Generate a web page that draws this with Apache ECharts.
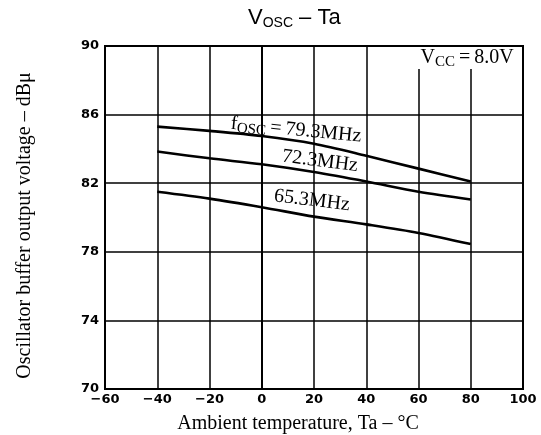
<!DOCTYPE html>
<html><head><meta charset="utf-8">
<script src="https://cdn.jsdelivr.net/npm/echarts@6/dist/echarts.min.js"></script>
<style>html,body{margin:0;padding:0;background:#fff}#c{width:541px;height:435px}</style>
</head><body><div id="c"></div>
<script>
// Data
const temps = [-40, -20, 0, 20, 40, 60, 80];
const f79 = [85.3, 85.05, 84.75, 84.3, 83.6, 82.85, 82.1];
const f72 = [83.85, 83.45, 83.1, 82.65, 82.1, 81.5, 81.05];
const f65 = [81.5, 81.1, 80.6, 80.05, 79.6, 79.1, 78.45];
const xTicks = [-60, -40, -20, 0, 20, 40, 60, 80, 100];
const yTicks = [70, 74, 78, 82, 86, 90];
const seriesNames = ['79.3MHz', '72.3MHz', '65.3MHz'];

const chart = echarts.init(document.getElementById('c'), null, {renderer: 'canvas'});
const serif = '"Liberation Serif", "DejaVu Serif", serif';
const sans = '"Liberation Sans", Arial, sans-serif';
const tickFont = '"DejaVu Sans", sans-serif';

function mkSeries(name, vals) {
  return {
    type: 'line', name: name,
    data: temps.map((t, i) => [t, vals[i]]),
    smooth: 0.3, symbol: 'none',
    lineStyle: {color: '#000', width: 2.6}, z: 5
  };
}

const labelStyle = {color: '#000', fontFamily: tickFont, fontWeight: 'bold', fontSize: 13};

chart.setOption({
  animation: false,
  backgroundColor: '#fff',
  title: {
    text: '{v|V}{s|OSC}{v| – Ta}', left: 243, top: 0,
    textStyle: {fontWeight: 'normal', rich: {
      v: {fontFamily: sans, fontSize: 22, fontWeight: 'normal', color: '#000', lineHeight: 26},
      s: {fontFamily: sans, fontSize: 14, fontWeight: 'normal', color: '#000', lineHeight: 14, padding: [10, 0, 0, 0]}
    }}
  },
  grid: {left: 105, right: 18, top: 46, bottom: 46, containLabel: false, outerBoundsMode: 'none',
    show: true, borderColor: '#000', borderWidth: 2, backgroundColor: 'transparent'},
  xAxis: {
    type: 'value', min: xTicks[0], max: xTicks[xTicks.length - 1], interval: 20,
    axisLine: {show: true, lineStyle: {color: '#000', width: 2}},
    axisTick: {show: false},
    splitLine: {show: true, lineStyle: {color: '#000', width: 1.5}},
    axisLabel: Object.assign({margin: 4, formatter: v => String(v).replace('-', '\u2212')}, labelStyle),
    name: 'Ambient temperature, Ta – °C', nameLocation: 'middle', nameGap: 25,
    nameTextStyle: {fontFamily: serif, fontSize: 20, color: '#000', padding: [0, 32, 0, 0]}
  },
  yAxis: {
    type: 'value', min: yTicks[0], max: yTicks[yTicks.length - 1],
    axisLine: {show: true, lineStyle: {color: '#000', width: 2}},
    axisTick: {show: false, customValues: yTicks},
    splitLine: {show: true, lineStyle: {color: '#000', width: 1.5}},
    axisLabel: Object.assign({margin: 6, customValues: yTicks}, labelStyle),
    name: 'Oscillator buffer output voltage – dBμ', nameLocation: 'middle', nameGap: 70, nameRotate: 90,
    nameTextStyle: {fontFamily: serif, fontSize: 20, color: '#000', padding: [0, 16, 0, 0]}
  },
  series: [mkSeries(seriesNames[0], f79), mkSeries(seriesNames[1], f72), mkSeries(seriesNames[2], f65)]
});

const richSerif = {
  n: {fontFamily: serif, fontSize: 20, color: '#000', lineHeight: 22},
  s: {fontFamily: serif, fontSize: 15, color: '#000', lineHeight: 15, padding: [8, 0, 0, 0]}
};
const notes = [
  {x: 13.1, y: 85.1, rot: -5.6, text: '{n|f}{s|OSC}{n|\u2009=\u200979.3MHz}'},
  {x: 22.3, y: 83.29, rot: -7.3, text: '{n|72.3MHz}'},
  {x: 19.2, y: 80.99, rot: -6.9, text: '{n|65.3MHz}'}
];
const g = notes.map(n => {
  const p = chart.convertToPixel({gridIndex: 0}, [n.x, n.y]);
  return {type: 'text', x: p[0], y: p[1], rotation: n.rot * Math.PI / 180, z: 10,
    style: {text: n.text, rich: richSerif, align: 'center', verticalAlign: 'middle'}};
});
const pv = chart.convertToPixel({gridIndex: 0}, [78.6, 89.3]);
g.push({type: 'text', x: pv[0], y: pv[1], z: 10,
  style: {text: '{n|V}{s|CC}{n|\u2009=\u20098.0V}', rich: richSerif, align: 'center', verticalAlign: 'middle',
    backgroundColor: '#fff', padding: [0, 3, 0, 3]}});
chart.setOption({graphic: g});
</script>
</body></html>
